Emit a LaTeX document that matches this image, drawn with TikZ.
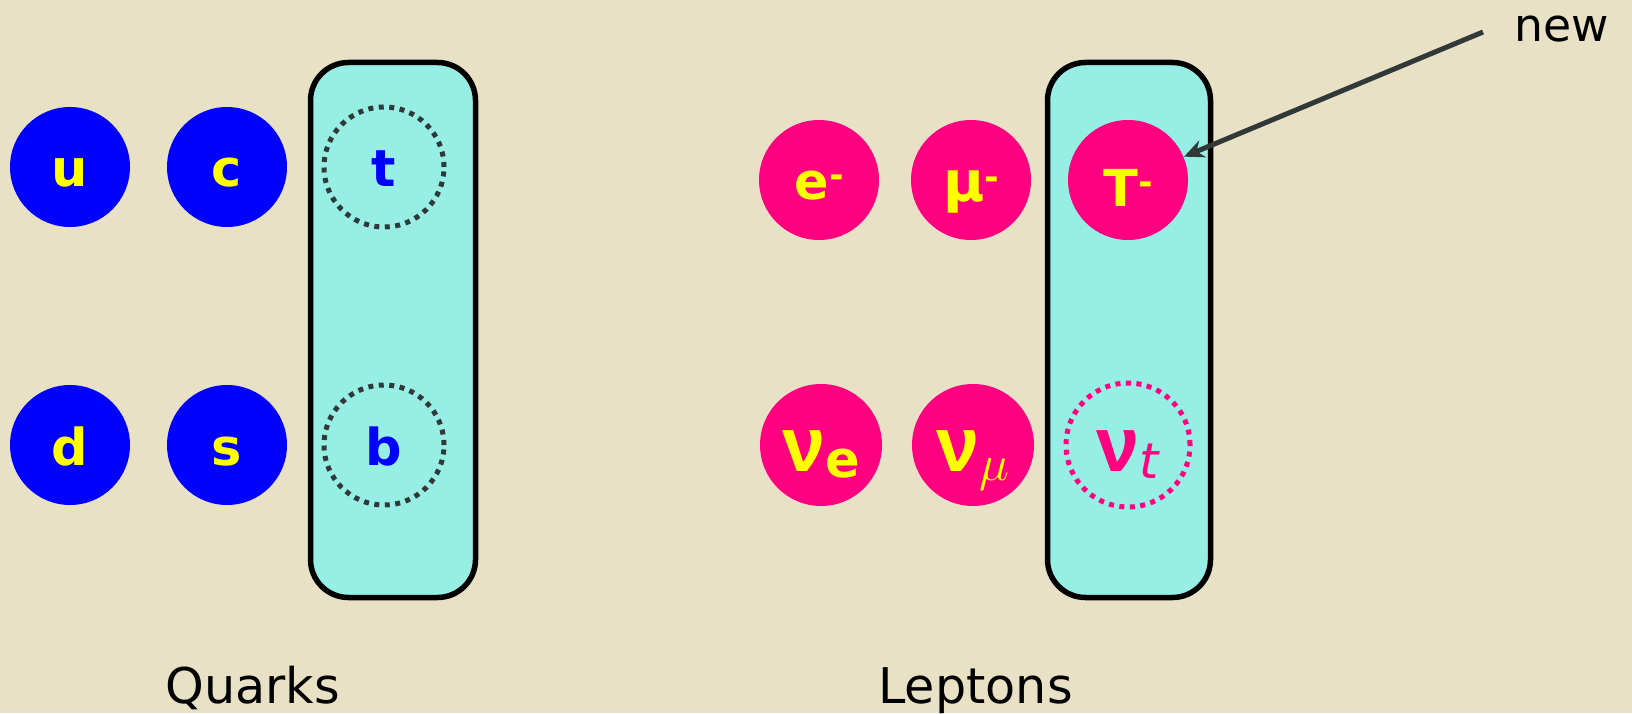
\documentclass[tikz,border=0pt]{standalone}
\definecolor{bgBeige}{RGB}{232,225,198}
\definecolor{genCyan}{RGB}{150,238,228}
\definecolor{quarkBlue}{RGB}{0,0,255}
\definecolor{leptonPink}{RGB}{255,0,128}
\definecolor{labelYellow}{RGB}{255,255,0}
\definecolor{dotGray}{RGB}{48,56,56}
\usepackage{fontspec}
\setmainfont{DejaVu Sans}
\newfontfamily\nufont{Liberation Sans}
\usepackage{tikz}
\usetikzlibrary{arrows.meta}
\newcommand{\nusym}{{\nufont\bfseries\fontsize{22}{22}\selectfont ν}}
\newcommand{\minussup}{\raisebox{3.5pt}{\fontsize{10}{10}\selectfont -}}

\begin{document}
\begin{tikzpicture}[every node/.style={font=\bfseries\fontsize{14.5}{14.5}\selectfont},
  particle/.style={circle, minimum size=1.2cm, inner sep=0pt, text=labelYellow,
    text height=0.4cm, text depth=0pt},
  quark/.style={particle, fill=quarkBlue},
  lepton/.style={particle, fill=leptonPink, minimum size=1.22cm},
  tall/.style={text height=0.54cm},
  unseen/.style={particle, line width=0.05cm, dash pattern=on 0.05cm off 0.055cm, minimum size=1.2cm},
  genbox/.style={draw=black, fill=genCyan, line width=0.055cm, rounded corners=0.38cm},
  caption/.style={anchor=base, font=\normalfont\fontsize{14}{14}\selectfont}]
  \useasboundingbox (0,0) rectangle (16.32,7.13);
  % Background
  \fill[bgBeige] (0,0) rectangle (16.32,7.13);
  % Third generation boxes
  \draw[genbox] (3.105,1.155) rectangle (4.755,6.505);
  \draw[genbox] (10.475,1.155) rectangle (12.105,6.505);
  % Quarks
  \node[quark] (u) at (0.70,5.46) {u};
  \node[quark] (c) at (2.27,5.46) {c};
  \node[unseen, draw=dotGray, text=quarkBlue] (t) at (3.84,5.46) {t};
  \node[quark] (d) at (0.70,2.68) {d};
  \node[quark] (s) at (2.27,2.68) {s};
  \node[unseen, draw=dotGray, text=quarkBlue] (b) at (3.84,2.68) {b};
  % Leptons
  \node[lepton, minimum size=1.2cm] (e) at (8.19,5.33) {e\minussup};
  \node[lepton, minimum size=1.2cm, text height=0.44cm] (mu) at (9.71,5.33) {{\fontsize{16}{16}\selectfont μ}\minussup};
  \node[lepton, minimum size=1.2cm, tall] (tau) at (11.28,5.33) {Τ\minussup};
  \node[lepton, tall] (nue) at (8.21,2.68) {\nusym\raisebox{-0.05cm}{e}};
  \node[lepton, tall] (numu) at (9.73,2.68) {\nusym\raisebox{-0.08cm}{\fontsize{15}{15}\selectfont$\mu$}};
  \node[unseen, tall, draw=leptonPink, text=leptonPink, minimum size=1.24cm] (nutau) at (11.28,2.68) {\nusym\raisebox{-0.06cm}{\normalfont\itshape\fontsize{14}{14}\selectfont t}};
  % Annotation
  \coordinate (newtail) at (14.83,6.81);
  \node[caption, font=\normalfont\fontsize{13}{13}\selectfont] (new) at (15.62,6.71) {new};
  \draw[-{Stealth[length=0.2cm,width=0.18cm]}, line width=0.05cm, dotGray] (newtail) -- (tau);
  % Labels
  \node[caption] (quarks) at (2.525,0.10) {Quarks};
  \node[caption] (leptons) at (9.755,0.10) {Leptons};
\end{tikzpicture}
\end{document}
